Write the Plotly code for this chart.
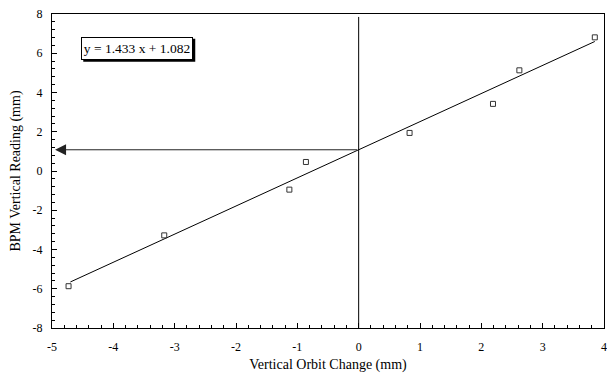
import plotly.graph_objects as go
import numpy as np

# Data
orbit_change = [-4.73, -3.17, -1.13, -0.86, 0.83, 2.19, 2.62, 3.85]
bpm_reading = [-5.87, -3.28, -0.95, 0.46, 1.94, 3.42, 5.13, 6.81]
fit_slope = 1.433
fit_intercept = 1.082
fit_x_range = [-4.70, 3.85]
x_ticks = [-5, -4, -3, -2, -1, 0, 1, 2, 3, 4]
y_ticks = [-8, -6, -4, -2, 0, 2, 4, 6, 8]
equation_text = "y = 1.433 x + 1.082"

FONT = "Liberation Serif, Times New Roman, serif"

fit_x = np.array(fit_x_range)
fit_y = fit_slope * fit_x + fit_intercept

fig = go.Figure()
fig.add_trace(go.Scatter(x=fit_x, y=fit_y, mode="lines",
                         line=dict(color="black", width=1), hoverinfo="skip"))
fig.add_trace(go.Scatter(x=orbit_change, y=bpm_reading, mode="markers",
                         marker=dict(symbol="square-open", size=5, color="#333",
                                     line=dict(width=1, color="#333"))))

# vertical line at x=0
fig.add_shape(type="line", xref="x", yref="y", x0=0, x1=0, y0=-8, y1=7.85,
              line=dict(color="black", width=1))

# arrow from intercept to y-axis
fig.add_annotation(x=-4.95, y=fit_intercept, ax=0, ay=fit_intercept,
                   xref="x", yref="y", axref="x", ayref="y",
                   showarrow=True, arrowhead=2, arrowsize=2.2, arrowwidth=1,
                   arrowcolor="#222", text="")

# equation box with shadow
box_x, box_y = -3.61, 6.26
fig.add_shape(type="rect", xref="x", yref="y", xsizemode="pixel", ysizemode="pixel",
              xanchor=box_x, yanchor=box_y, x0=-54, x1=58, y0=-13.5, y1=9.5,
              fillcolor="black", line=dict(width=0))
fig.add_annotation(x=box_x, y=box_y, xref="x", yref="y", text=equation_text,
                   showarrow=False, width=108, height=19,
                   font=dict(family=FONT, size=13.5, color="black"),
                   bgcolor="white", bordercolor="black", borderwidth=1, borderpad=1)

axis_common = dict(showline=True, linecolor="black", linewidth=1, mirror=True,
                   ticks="inside", ticklen=5, tickcolor="black", showgrid=False,
                   zeroline=False, automargin=False,
                   tickfont=dict(family=FONT, size=12, color="black"))

fig.update_xaxes(range=[-5, 4], tickvals=x_ticks, ticktext=[str(v) for v in x_ticks],
                 ticklabelstandoff=8,
                 minor=dict(dtick=0.2, tick0=0, ticks="inside", ticklen=3, tickcolor="black"),
                 title=dict(text="Vertical Orbit Change (mm)", standoff=9,
                            font=dict(family=FONT, size=14, color="black")),
                 **axis_common)
fig.update_yaxes(range=[-8, 8], tickvals=y_ticks, ticktext=[str(v) for v in y_ticks],
                 ticklabelstandoff=6,
                 minor=dict(dtick=0.4, tick0=0, ticks="inside", ticklen=3, tickcolor="black"),
                 title=dict(text="BPM Vertical Reading (mm)", standoff=8,
                            font=dict(family=FONT, size=14, color="black")),
                 **axis_common)

fig.update_layout(width=607, height=373, showlegend=False,
                  margin=dict(l=52, r=3, t=14, b=45),
                  plot_bgcolor="white", paper_bgcolor="white")

fig.write_html("out.html")
